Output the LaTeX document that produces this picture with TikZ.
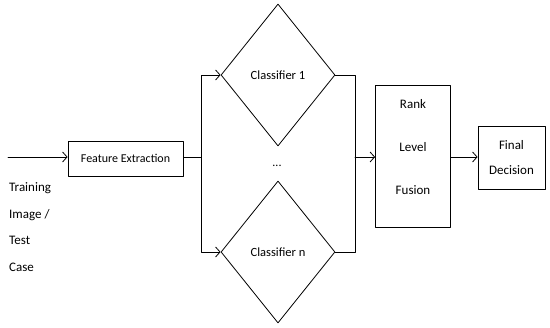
\documentclass[tikz,border=0pt]{standalone}
\usepackage{fontspec}
\setmainfont{Carlito}
\usetikzlibrary{arrows.meta,shapes.geometric}
\tikzset{
    blk/.style={
        draw, line width=0.8pt, inner sep=2pt, align=center,
        font=\fontsize{12}{14}\selectfont
    },
    clf/.style={
        draw, diamond, line width=0.8pt, inner sep=0pt,
        minimum width=114pt, minimum height=142pt,
        font=\fontsize{12.5}{14}\selectfont
    },
    link/.style={line width=0.8pt},
    tip/.style={link, -{Straight Barb[length=4.5pt,width=10pt]}}
}

\begin{document}
\begin{tikzpicture}[x=1pt,y=-1pt, line cap=round, line join=round]

\useasboundingbox (0,0) rectangle (550,328);

% input and feature stage
\coordinate (in) at (8,157);
\node[blk, minimum width=115pt, minimum height=35pt] (fe) at (125.5,158.5) {Feature Extraction};
\node[anchor=north west, align=left, inner sep=0pt,
      font=\fontsize{13}{26.5}\selectfont] (src) at (9,182.5) {Training\\Image /\\Test\\Case};

% classifiers
\node[clf] (c1) at (278,75) {Classifier 1};
\node[clf] (cn) at (278,252) {Classifier n};
\node[font=\fontsize{12}{14}\selectfont] (dots) at (277,166) {...};

% fusion and decision
\node[blk, minimum width=75pt, minimum height=142pt, text depth=19pt,
      font=\fontsize{13}{43}\selectfont] (rank) at (413,156) {Rank\\Level\\Fusion};
\node[blk, minimum width=67pt, minimum height=63pt,
      font=\fontsize{13}{25}\selectfont] (fd) at (511.5,157.5) {Final\\Decision};

\coordinate (split) at (201,157);
\coordinate (join) at (355,157);

% connectors
\draw[tip] (in) -- (fe.west |- in);
\draw[link] (fe.east |- split) -- (split);
\draw[tip] (split) |- (c1.west);
\draw[tip] (split) |- (cn.west);
\draw[link] (c1.east) -| (join);
\draw[link] (cn.east) -| (join);
\draw[tip] (join) -- (rank.west |- join);
\draw[tip] (rank.east |- join) -- (fd.west |- join);

\end{tikzpicture}
\end{document}
